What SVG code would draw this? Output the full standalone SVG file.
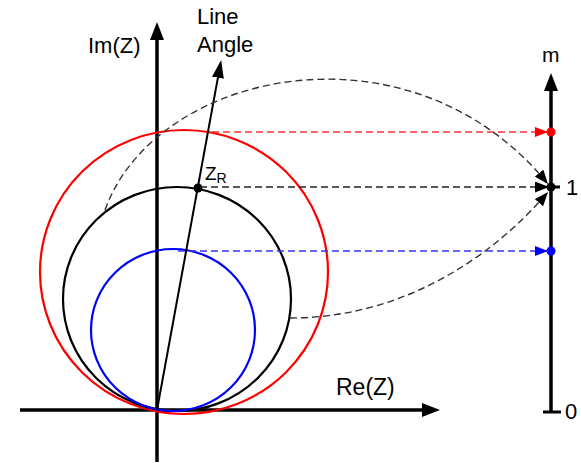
<svg xmlns="http://www.w3.org/2000/svg" width="581" height="463" viewBox="0 0 581 463">
<style>
  text { font-family: "Liberation Sans", Arial, sans-serif; fill: #000; }
  .lbl { font-size: 22px; }
  .axis { stroke: #000; stroke-width: 3.5; fill: none; }
  .circ { fill: none; stroke-width: 2.2; }
  .dash { fill: none; stroke-width: 1.4; stroke-dasharray: 7 4; }
</style>
<defs>
  <marker id="bigArrow" viewBox="0 0 18 14" refX="10" refY="7" markerWidth="18" markerHeight="14" markerUnits="userSpaceOnUse" orient="auto">
    <path d="M0,0 L18,7 L0,14 z" fill="#000"/>
  </marker>
  <marker id="midArrow" viewBox="0 0 18 12" refX="10" refY="6" markerWidth="18" markerHeight="12" markerUnits="userSpaceOnUse" orient="auto">
    <path d="M0,0 L18,6 L0,12 z" fill="#000"/>
  </marker>
  <marker id="arrBlack" viewBox="0 0 14 11" refX="14" refY="5.5" markerWidth="14" markerHeight="11" markerUnits="userSpaceOnUse" orient="auto">
    <path d="M0,0 L14,5.5 L0,11 z" fill="#000"/>
  </marker>
  <marker id="arrRed" viewBox="0 0 13 10" refX="13" refY="5" markerWidth="13" markerHeight="10" markerUnits="userSpaceOnUse" orient="auto">
    <path d="M0,0 L13,5 L0,10 z" fill="#ff0000"/>
  </marker>
  <marker id="arrBlue" viewBox="0 0 13 10" refX="13" refY="5" markerWidth="13" markerHeight="10" markerUnits="userSpaceOnUse" orient="auto">
    <path d="M0,0 L13,5 L0,10 z" fill="#0000ff"/>
  </marker>
</defs>

<g id="impedance-plane">
  <line class="axis" x1="20" y1="410" x2="432" y2="410" marker-end="url(#bigArrow)"/>
  <line class="axis" x1="157" y1="462" x2="157" y2="30" marker-end="url(#bigArrow)"/>
  <text class="lbl" x="88" y="53">Im(Z)</text>
  <text x="336" y="395" font-size="23">Re(Z)</text>
</g>

<g id="circle-red">
  <ellipse class="circ" cx="184" cy="272" rx="144" ry="142" stroke="#ff0000"/>
</g>
<g id="circle-black">
  <ellipse class="circ" cx="177" cy="299" rx="114" ry="112" stroke="#000"/>
</g>
<g id="circle-blue">
  <ellipse class="circ" cx="173" cy="330" rx="82" ry="81" stroke="#0000ff"/>
</g>

<g id="line-angle">
  <line x1="157" y1="410" x2="219.7" y2="67.9" stroke="#000" stroke-width="2" marker-end="url(#midArrow)"/>
  <text class="lbl" x="197" y="24">Line</text>
  <text class="lbl" x="197" y="52">Angle</text>
</g>

<g id="zr-point">
  <circle cx="198" cy="188" r="4.5" fill="#000"/>
  <text x="205" y="180" font-size="19">Z<tspan font-size="14" dy="3">R</tspan></text>
</g>

<g id="m-axis">
  <line class="axis" x1="551" y1="412" x2="551" y2="81" stroke-width="3" marker-end="url(#bigArrow)"/>
  <line x1="543" y1="412" x2="561" y2="412" stroke="#000" stroke-width="3"/>
  <line x1="551" y1="187" x2="560" y2="187" stroke="#000" stroke-width="3"/>
  <text x="542" y="62" font-size="21">m</text>
  <text class="lbl" x="566" y="195">1</text>
  <text class="lbl" x="565" y="419">0</text>
  <circle cx="551" cy="132" r="4.5" fill="#ff0000"/>
  <circle cx="551" cy="187" r="4.5" fill="#000"/>
  <circle cx="551" cy="251" r="4.5" fill="#0000ff"/>
</g>

<g id="connectors">
  <line class="dash" x1="212" y1="132" x2="548" y2="132" stroke="#ff3333" marker-end="url(#arrRed)"/>
  <line class="dash" x1="200" y1="187" x2="549" y2="187" stroke="#222" marker-end="url(#arrBlack)"/>
  <line class="dash" x1="178" y1="251" x2="548" y2="251" stroke="#3333ff" marker-end="url(#arrBlue)"/>
  <path class="dash" d="M105,210 C155,70 410,15 548,184" stroke="#333" marker-end="url(#arrBlack)"/>
  <path class="dash" d="M290,318 C400,318 490,260 548,192" stroke="#333" marker-end="url(#arrBlack)"/>
</g>
</svg>
